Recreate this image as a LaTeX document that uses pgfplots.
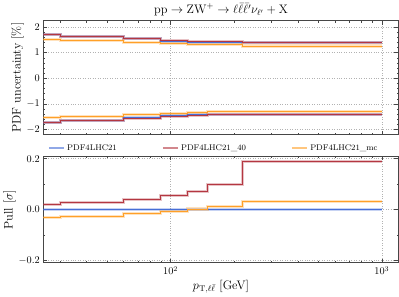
\documentclass[border=0pt]{standalone}
\usepackage{pgfplots}
\pgfplotsset{compat=1.18}
\definecolor{cblue}{RGB}{70,110,215}
\definecolor{cred}{RGB}{180,55,65}
\definecolor{corange}{RGB}{255,160,40}
\definecolor{framegray}{RGB}{70,70,70}
\begin{document}
\begin{tikzpicture}
\begin{axis}[name=top, height=111pt,
  scale only axis, width=346pt, xmode=log, xmin=25, xmax=1200,
  axis line style={framegray, line width=0.9pt},
  tick align=inside, xtick pos=both, ytick pos=both,
  major tick length=4pt, minor tick length=2pt,
  tick style={framegray, line width=0.5pt},
  grid=major, major grid style={gray!60, dotted, line width=0.5pt},
  ymin=-2.2, ymax=2.25, ytick={-2,-1,0,1,2}, minor y tick num=4,
  xticklabels={},
  ylabel={PDF uncertainty [\%]}, ylabel style={font=\large, yshift=-4pt},
  title={$\mathrm{pp}\to\mathrm{ZW}^{+}\to\ell\bar{\ell}\bar{\ell}'\nu_{\ell'}+\mathrm{X}$},
  title style={font=\large, yshift=-5pt},
]
% bands
\addplot[const plot mark left, no marks, line width=3pt, opacity=0.3, cblue, forget plot] coordinates {(25,1.72)(30,1.64)(60,1.54)(90,1.45)(120,1.41)(150,1.39)(220,1.39)(1000,1.39)};
\addplot[const plot mark left, no marks, line width=3pt, opacity=0.3, cred, forget plot] coordinates {(25,1.72)(30,1.64)(60,1.55)(90,1.49)(120,1.45)(150,1.42)(220,1.39)(1000,1.39)};
\addplot[const plot mark left, no marks, line width=3pt, opacity=0.3, corange, forget plot] coordinates {(25,1.52)(30,1.46)(60,1.39)(90,1.35)(120,1.33)(150,1.31)(220,1.26)(1000,1.26)};
\addplot[const plot mark left, no marks, line width=3pt, opacity=0.3, cblue, forget plot] coordinates {(25,-1.72)(30,-1.64)(60,-1.54)(90,-1.46)(120,-1.41)(150,-1.40)(220,-1.42)(1000,-1.42)};
\addplot[const plot mark left, no marks, line width=3pt, opacity=0.3, cred, forget plot] coordinates {(25,-1.72)(30,-1.65)(60,-1.56)(90,-1.49)(120,-1.45)(150,-1.43)(220,-1.43)(1000,-1.43)};
\addplot[const plot mark left, no marks, line width=3pt, opacity=0.3, corange, forget plot] coordinates {(25,-1.54)(30,-1.48)(60,-1.41)(90,-1.36)(120,-1.32)(150,-1.31)(220,-1.29)(1000,-1.29)};
% lines
\addplot[const plot mark left, no marks, line width=1pt, cblue] coordinates {(25,1.72)(30,1.64)(60,1.54)(90,1.45)(120,1.41)(150,1.39)(220,1.39)(1000,1.39)};
\addplot[const plot mark left, no marks, line width=1pt, cblue] coordinates {(25,-1.72)(30,-1.64)(60,-1.54)(90,-1.46)(120,-1.41)(150,-1.40)(220,-1.42)(1000,-1.42)};
\addplot[const plot mark left, no marks, line width=1pt, cred] coordinates {(25,1.72)(30,1.64)(60,1.55)(90,1.49)(120,1.45)(150,1.42)(220,1.39)(1000,1.39)};
\addplot[const plot mark left, no marks, line width=1pt, cred] coordinates {(25,-1.72)(30,-1.65)(60,-1.56)(90,-1.49)(120,-1.45)(150,-1.43)(220,-1.43)(1000,-1.43)};
\addplot[const plot mark left, no marks, line width=1pt, corange] coordinates {(25,1.52)(30,1.46)(60,1.39)(90,1.35)(120,1.33)(150,1.31)(220,1.26)(1000,1.26)};
\addplot[const plot mark left, no marks, line width=1pt, corange] coordinates {(25,-1.54)(30,-1.48)(60,-1.41)(90,-1.36)(120,-1.32)(150,-1.31)(220,-1.29)(1000,-1.29)};
\end{axis}
\begin{axis}[at={(top.south west)}, anchor=north west, yshift=-21pt, height=104pt,
  scale only axis, width=346pt, xmode=log, xmin=25, xmax=1200,
  axis line style={framegray, line width=0.9pt},
  tick align=inside, xtick pos=both, ytick pos=both,
  major tick length=4pt, minor tick length=2pt,
  tick style={framegray, line width=0.5pt},
  grid=major, major grid style={gray!60, dotted, line width=0.5pt},
  ymin=-0.21, ymax=0.21, ytick={-0.2,0,0.2}, minor y tick num=1,
  yticklabel style={/pgf/number format/.cd, fixed, fixed zerofill, precision=1},
  ylabel={Pull [$\sigma$]}, ylabel style={font=\large, yshift=-4pt},
  xlabel={$p_{\mathrm{T},\ell\bar{\ell}}$ [GeV]}, xlabel style={font=\large, yshift=2pt},
  legend columns=3,
  legend style={draw=none, fill=none, at={(0.48,1.0)}, anchor=south, font=\footnotesize,
    /tikz/every even column/.append style={column sep=42pt}},
  legend image code/.code={\draw[line width=1.6pt, opacity=0.6] (0pt,0pt) -- (15pt,0pt);},
]
\addplot[const plot mark left, no marks, line width=3pt, opacity=0.3, cblue, forget plot] coordinates {(25,0)(30,0)(60,0)(90,0)(120,0)(150,0)(220,0)(1000,0)};
\addplot[const plot mark left, no marks, line width=3pt, opacity=0.3, cred, forget plot] coordinates {(25,0.019)(30,0.026)(60,0.040)(90,0.056)(120,0.072)(150,0.097)(220,0.188)(1000,0.188)};
\addplot[const plot mark left, no marks, line width=3pt, opacity=0.3, corange, forget plot] coordinates {(25,-0.031)(30,-0.027)(60,-0.017)(90,-0.008)(120,0.002)(150,0.013)(220,0.030)(1000,0.030)};
\addplot[const plot mark left, no marks, line width=1pt, cblue] coordinates {(25,0)(30,0)(60,0)(90,0)(120,0)(150,0)(220,0)(1000,0)};
\addlegendentry{PDF4LHC21}
\addplot[const plot mark left, no marks, line width=1pt, cred] coordinates {(25,0.019)(30,0.026)(60,0.040)(90,0.056)(120,0.072)(150,0.097)(220,0.188)(1000,0.188)};
\addlegendentry{PDF4LHC21\_40}
\addplot[const plot mark left, no marks, line width=1pt, corange] coordinates {(25,-0.031)(30,-0.027)(60,-0.017)(90,-0.008)(120,0.002)(150,0.013)(220,0.030)(1000,0.030)};
\addlegendentry{PDF4LHC21\_mc}
\end{axis}
\end{tikzpicture}
\end{document}
